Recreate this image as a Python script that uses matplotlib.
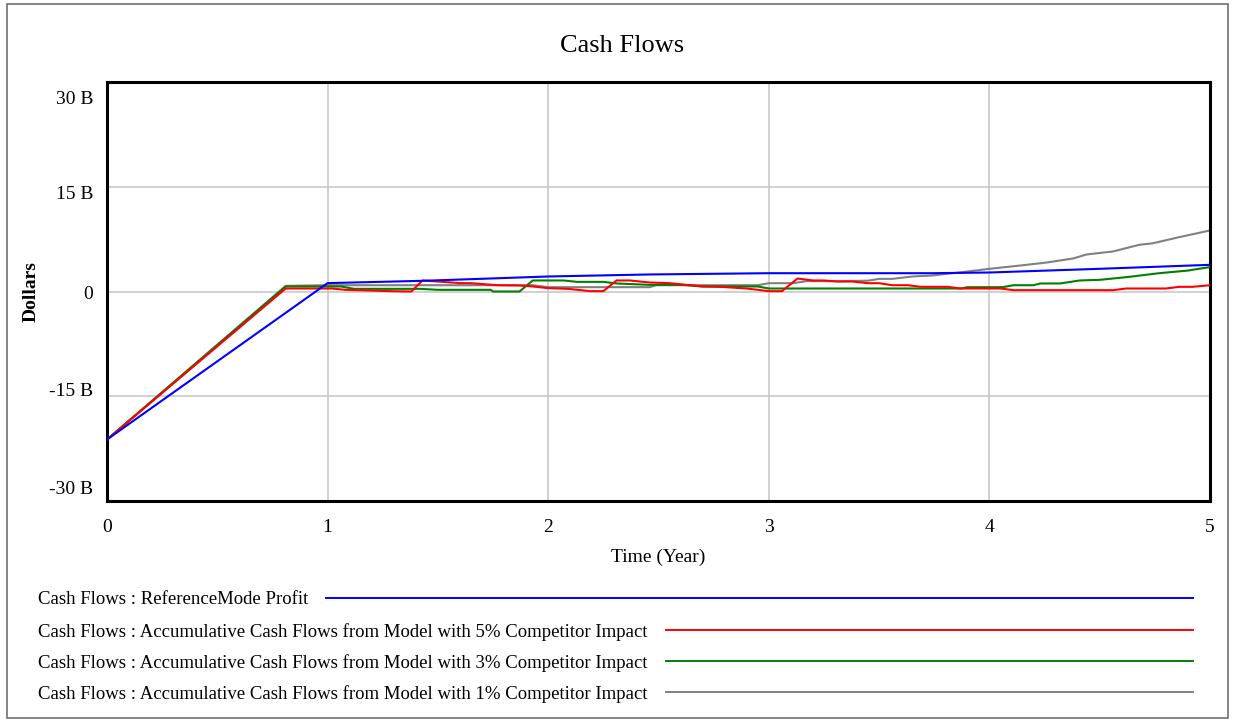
import matplotlib
matplotlib.use("Agg")
import matplotlib.pyplot as plt
from matplotlib.lines import Line2D
from matplotlib.patches import Rectangle
from matplotlib.transforms import ScaledTranslation

plt.rcParams['font.family'] = ['Liberation Serif', 'DejaVu Serif']

# Time axis in years, values in billions of dollars
ref_t = [0, 1.0, 1.43, 1.69, 2.00, 2.46, 3.00, 3.37, 3.74, 4.00, 4.50, 5.00]
ref_v = [-21.2, 1.2, 1.53, 1.81, 2.15, 2.44, 2.62, 2.62, 2.62, 2.72, 3.25, 3.82]

c5_t = [0, 0.81, 1.02, 1.08, 1.30, 1.38, 1.43, 1.50, 1.60, 1.65, 1.77, 1.87, 1.93,
        2.00, 2.09, 2.19, 2.25, 2.31, 2.37, 2.46, 2.55, 2.70, 2.78, 2.90, 3.00,
        3.06, 3.13, 3.20, 3.25, 3.31, 3.38, 3.45, 3.50, 3.56, 3.63, 3.69, 3.81,
        3.87, 4.05, 4.11, 4.56, 4.62, 4.80, 4.86, 4.92, 5.00]
c5_v = [-21.2, 0.43, 0.43, 0.24, 0.04, 0.0, 1.58, 1.43, 1.2, 1.19, 0.9, 0.86, 0.72,
        0.48, 0.38, 0.05, 0.05, 1.58, 1.58, 1.29, 1.19, 0.72, 0.67, 0.43, 0.05,
        0.05, 1.86, 1.58, 1.58, 1.43, 1.43, 1.19, 1.19, 0.9, 0.9, 0.67, 0.67,
        0.43, 0.43, 0.19, 0.19, 0.43, 0.43, 0.67, 0.67, 0.9]

c3_t = [0, 0.81, 1.06, 1.12, 1.42, 1.50, 1.74, 1.75, 1.87, 1.93, 2.07, 2.13, 2.25,
        2.31, 2.46, 2.61, 2.70, 2.95, 3.00, 3.87, 3.90, 4.06, 4.11, 4.20, 4.23,
        4.32, 4.41, 4.50, 4.62, 4.77, 4.90, 5.00]
c3_v = [-21.2, 0.72, 0.72, 0.38, 0.38, 0.24, 0.24, 0.0, 0.0, 1.58, 1.58, 1.38, 1.38,
        1.15, 0.95, 0.95, 0.72, 0.72, 0.43, 0.43, 0.62, 0.62, 0.9, 0.9, 1.15,
        1.15, 1.58, 1.67, 2.05, 2.62, 3.0, 3.5]

c1_t = [0, 0.81, 1.0, 1.93, 2.00, 2.46, 2.49, 2.95, 3.00, 3.11, 3.17, 3.32, 3.45,
        3.50, 3.56, 3.65, 3.74, 3.90, 4.00, 4.14, 4.26, 4.38, 4.44, 4.56, 4.68,
        4.74, 4.86, 5.00]
c1_v = [-21.2, 0.81, 0.9, 0.9, 0.62, 0.62, 0.9, 0.9, 1.19, 1.19, 1.48, 1.48, 1.55,
        1.81, 1.81, 2.15, 2.29, 2.86, 3.25, 3.72, 4.15, 4.73, 5.3, 5.73, 6.69,
        6.9, 7.78, 8.74]

x_ticks = [0, 1, 2, 3, 4, 5]
y_ticks = [-30, -15, 0, 15, 30]
y_labels = ["-30 B", "-15 B", "0", "15 B", "30 B"]

legend_labels = [
    "Cash Flows : ReferenceMode Profit",
    "Cash Flows : Accumulative Cash Flows from Model with 5% Competitor Impact",
    "Cash Flows : Accumulative Cash Flows from Model with 3% Competitor Impact",
    "Cash Flows : Accumulative Cash Flows from Model with 1% Competitor Impact",
]
colors = ["#0000ff", "#ff0000", "#008000", "#808080"]

W, H = 1233, 721
fig = plt.figure(figsize=(W / 100, H / 100), dpi=100)
ax = fig.add_axes([107 / W, 1 - 501 / H, (1210 - 107) / W, (501 - 82) / H])

series = [(ref_t, ref_v), (c5_t, c5_v), (c3_t, c3_v), (c1_t, c1_v)]
# gray drawn lowest so the coloured lines sit on top
for (t, v), col, z in zip(series, colors, [5, 4, 3, 2]):
    ax.plot(t, v, color=col, lw=1.5, zorder=z)

ax.set_xlim(0, 5)
ax.set_ylim(-30, 30)
ax.set_xticks(x_ticks)
ax.set_yticks(y_ticks)
ax.set_yticklabels(y_labels)
ax.tick_params(length=0, labelsize=14)
ax.tick_params(axis='y', pad=10)
ax.tick_params(axis='x', pad=13)
ax.grid(True, color="#c8c8c8", lw=1.2)
ax.set_axisbelow(True)
for s in ax.spines.values():
    s.set_linewidth(2.2)
    s.set_color("black")

# value labels sit inward from the frame edges
shifts_px = [14, 7, -1, -6, -16]
for lab, dy in zip(ax.get_yticklabels(), shifts_px):
    lab.set_transform(lab.get_transform() +
                      ScaledTranslation(0, dy / 100, fig.dpi_scale_trans))

ax.set_xlabel("Time (Year)", fontsize=14, labelpad=9)
ax.set_ylabel("Dollars", fontsize=14, fontweight="bold", labelpad=7)

fig.text(622 / W, 1 - 46 / H, "Cash Flows", fontsize=19, ha="center", va="center")

# legend rows: label then a coloured sample line
fig.canvas.draw()
renderer = fig.canvas.get_renderer()
rows_y = [598, 630, 661, 692]
for lab, col, yy in zip(legend_labels, colors, rows_y):
    txt = fig.text(38 / W, 1 - (yy + 2) / H, lab, fontsize=13.5, ha="left", va="center")
    bb = txt.get_window_extent(renderer=renderer)
    x0 = (bb.x1 + 18) / W
    fig.add_artist(Line2D([x0, 1193 / W], [1 - yy / H, 1 - yy / H],
                          color=col, lw=1.4, transform=fig.transFigure))

fig.add_artist(Rectangle((7 / W, 1 - 718 / H), (1228 - 7) / W, (718 - 4) / H,
                         transform=fig.transFigure, fill=False,
                         edgecolor="#707070", lw=1.2))

fig.savefig("out.png", dpi=100)
